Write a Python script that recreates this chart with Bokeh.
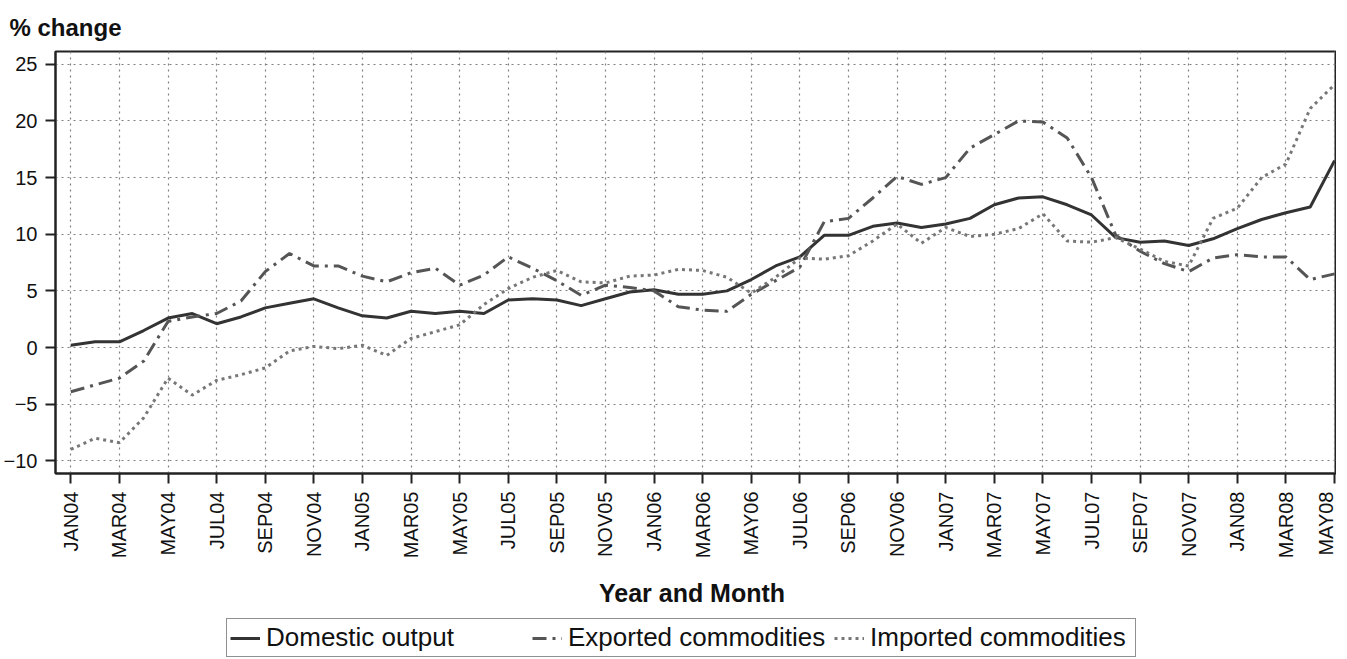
import math
from bokeh.plotting import figure
from bokeh.layouts import column
from bokeh.models import Range1d, FixedTicker, Legend, LegendItem
from bokeh.embed import file_html
from bokeh.resources import INLINE

# ---- data (monthly, JAN04 .. MAY08) ----
months = ["JAN04", "FEB04", "MAR04", "APR04", "MAY04", "JUN04", "JUL04", "AUG04", "SEP04", "OCT04", "NOV04", "DEC04",
          "JAN05", "FEB05", "MAR05", "APR05", "MAY05", "JUN05", "JUL05", "AUG05", "SEP05", "OCT05", "NOV05", "DEC05",
          "JAN06", "FEB06", "MAR06", "APR06", "MAY06", "JUN06", "JUL06", "AUG06", "SEP06", "OCT06", "NOV06", "DEC06",
          "JAN07", "FEB07", "MAR07", "APR07", "MAY07", "JUN07", "JUL07", "AUG07", "SEP07", "OCT07", "NOV07", "DEC07",
          "JAN08", "FEB08", "MAR08", "APR08", "MAY08"]

domestic = [0.2, 0.5, 0.5, 1.5, 2.6, 3.0, 2.1, 2.7, 3.5, 3.9, 4.3, 3.5,
            2.8, 2.6, 3.2, 3.0, 3.2, 3.0, 4.2, 4.3, 4.2, 3.7, 4.3, 4.9,
            5.1, 4.7, 4.7, 5.0, 6.0, 7.2, 8.0, 9.9, 9.9, 10.7, 11.0, 10.6,
            10.9, 11.4, 12.6, 13.2, 13.3, 12.6, 11.7, 9.7, 9.3, 9.4, 9.0, 9.6,
            10.5, 11.3, 11.9, 12.4, 16.5]

exported = [-3.9, -3.3, -2.7, -1.2, 2.3, 2.7, 3.0, 4.1, 6.7, 8.3, 7.2, 7.2,
            6.3, 5.8, 6.6, 7.0, 5.5, 6.4, 8.0, 7.0, 5.9, 4.6, 5.5, 5.3,
            5.0, 3.6, 3.3, 3.2, 4.7, 5.9, 7.1, 11.1, 11.4, 13.2, 15.1, 14.4,
            15.0, 17.6, 18.8, 20.0, 19.9, 18.5, 15.0, 9.9, 8.5, 7.4, 6.7, 7.9,
            8.2, 8.0, 8.0, 6.0, 6.5]

imported = [-9.0, -8.0, -8.4, -6.2, -2.7, -4.2, -2.9, -2.4, -1.8, -0.3, 0.1, -0.1,
            0.2, -0.7, 0.8, 1.4, 2.0, 3.8, 5.2, 6.2, 6.8, 5.8, 5.7, 6.3,
            6.4, 6.9, 6.8, 6.2, 4.8, 6.2, 7.9, 7.8, 8.1, 9.4, 10.9, 9.2,
            10.6, 9.8, 10.0, 10.5, 11.8, 9.4, 9.3, 9.7, 8.7, 7.6, 7.2, 11.4,
            12.3, 15.0, 16.2, 21.1, 23.2]

series_names = ["Domestic output", "Exported commodities", "Imported commodities"]

tick_labels = ["JAN04", "MAR04", "MAY04", "JUL04", "SEP04", "NOV04", "JAN05", "MAR05", "MAY05", "JUL05",
               "SEP05", "NOV05", "JAN06", "MAR06", "MAY06", "JUL06", "SEP06", "NOV06", "JAN07", "MAR07",
               "MAY07", "JUL07", "SEP07", "NOV07", "JAN08", "MAR08", "MAY08"]
y_ticks = [-10, -5, 0, 5, 10, 15, 20, 25]

x = list(range(len(months)))
tick_pos = [months.index(t) for t in tick_labels]
all_series = [domestic, exported, imported]

FONT = "Liberation Sans"
STYLES = [dict(line_color="#333333", line_width=3),
          dict(line_color="#555555", line_width=3, line_dash="14 6 3 6"),
          dict(line_color="#777777", line_width=3, line_dash="3 4")]

p = figure(frame_width=1280, frame_height=422, output_backend="svg", toolbar_location=None,
           x_range=Range1d(-0.63, 52.04), y_range=Range1d(-11.12, 26.13),
           min_border_left=50, min_border_right=1, min_border_top=42, min_border_bottom=0,
           background_fill_color="white", border_fill_color="white")

p.outline_line_color = "#222222"
p.outline_line_width = 2

# title
p.title.text = "% change"
p.title.align = "left"
p.title.offset = -46
p.title.text_font = FONT
p.title.text_font_size = "24px"
p.title.text_font_style = "bold"
p.title.text_color = "#111111"
p.title.standoff = 22

# axes
for ax in (p.xaxis[0], p.yaxis[0]):
    ax.axis_line_color = "#222222"
    ax.axis_line_width = 2
    ax.major_tick_line_color = "#222222"
    ax.major_tick_line_width = 2
    ax.major_tick_in = 0
    ax.major_tick_out = 10
    ax.minor_tick_line_color = None
    ax.major_label_text_font = FONT
    ax.major_label_text_font_size = "20px"
    ax.major_label_text_color = "#111111"
    ax.major_label_standoff = 8

p.xaxis.ticker = FixedTicker(ticks=tick_pos)
p.xaxis.major_label_overrides = {pos: lab for pos, lab in zip(tick_pos, tick_labels)}
p.xaxis.major_label_orientation = math.pi / 2
p.xaxis.axis_label = "Year and  Month"
p.xaxis.axis_label_text_font = FONT
p.xaxis.axis_label_text_font_size = "25px"
p.xaxis.axis_label_text_font_style = "bold"
p.xaxis.axis_label_text_color = "#111111"
p.xaxis.axis_label_standoff = 18

p.yaxis.ticker = FixedTicker(ticks=y_ticks)

# grid
p.xgrid.ticker = FixedTicker(ticks=tick_pos)
p.ygrid.ticker = FixedTicker(ticks=y_ticks)
for g in (p.xgrid[0], p.ygrid[0]):
    g.grid_line_color = "#808080"
    g.grid_line_dash = "2 4"
    g.grid_line_width = 1.2

# lines
for ys, st in zip(all_series, STYLES):
    p.line(x, ys, **st)

# ---- legend strip below the chart (its ranges keep the series out of view) ----
q = figure(width=1331, height=47, output_backend="svg", toolbar_location=None,
           x_axis_location=None, y_axis_location=None,
           x_range=Range1d(0, 1), y_range=Range1d(1000, 1001),
           min_border_left=0, min_border_right=0, min_border_top=0, min_border_bottom=0,
           background_fill_color="white", border_fill_color="white")
q.outline_line_color = None
q.grid.visible = False
leg_renderers = [q.line(x, ys, **st) for ys, st in zip(all_series, STYLES)]

legend = Legend(items=[LegendItem(label=n, renderers=[r]) for n, r in zip(series_names, leg_renderers)],
                orientation="horizontal", location=(171, 0))
legend.label_text_font = FONT
legend.label_text_font_size = "26px"
legend.label_text_color = "#111111"
legend.glyph_width = 30
legend.glyph_height = 20
legend.label_standoff = 6
legend.label_width = 262
legend.spacing = 4
legend.padding = 3
legend.margin = 0
legend.border_line_color = "#222222"
legend.border_line_width = 1.5
legend.background_fill_color = "white"
legend.background_fill_alpha = 1.0
q.add_layout(legend, "center")

layout = column(p, q, spacing=0)
open("out.html", "w").write(file_html(layout, INLINE))
